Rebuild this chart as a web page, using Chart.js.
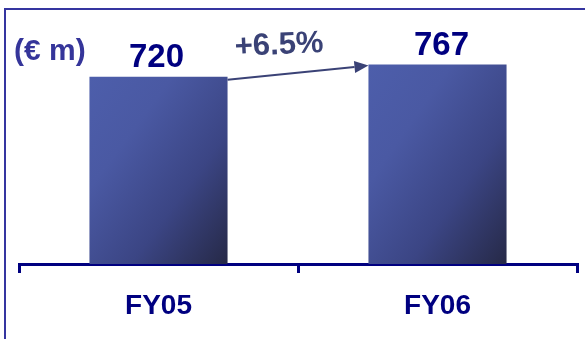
<!DOCTYPE html>
<html>
<head>
<meta charset="utf-8">
<script src="https://cdn.jsdelivr.net/npm/chart.js@4.4.1/dist/chart.umd.min.js"></script>
<style>
html,body{margin:0;padding:0;background:#fff;}
#wrap{width:585px;height:339px;position:relative;}
</style>
</head>
<body>
<div id="wrap"><canvas id="c" width="585" height="339"></canvas></div>
<script>
const categories = ['FY05', 'FY06'];
const revenue = [720, 767];
const unitLabel = '(€ m)';

const FONT = '"Liberation Sans", Arial, sans-serif';
const NAVY = '#000080';

function barGradient(context) {
  const chart = context.chart;
  const xs = chart.scales.x, ys = chart.scales.y;
  const i = context.dataIndex;
  if (!xs || !ys || i === undefined) return '#3f4a8b';
  const cx = xs.getPixelForValue(i);
  const w = (xs.width / categories.length) * 0.495;
  const top = ys.getPixelForValue(revenue[i]);
  const bottom = ys.getPixelForValue(0);
  const h = bottom - top;
  const l = cx - w / 2;
  if (![cx, w, top, bottom].every(Number.isFinite) || w <= 0 || h <= 0) return '#3f4a8b';
  const t = 2 * w * h / (h * h + w * w);
  const g = chart.ctx.createLinearGradient(l, top, l + h * t, top + w * t);
  g.addColorStop(0, '#4d5eab');
  g.addColorStop(0.3, '#4a59a3');
  g.addColorStop(0.65, '#3b4584');
  g.addColorStop(1, '#262947');
  return g;
}

const decorPlugin = {
  id: 'decor',
  beforeDraw(chart) {
    const ctx = chart.ctx;
    ctx.save();
    ctx.strokeStyle = '#3535a0';
    ctx.lineWidth = 2;
    ctx.beginPath();
    ctx.moveTo(5, 339);
    ctx.lineTo(5, 9);
    ctx.lineTo(585, 9);
    ctx.stroke();
    ctx.fillStyle = '#35359a';
    ctx.font = 'bold 30px ' + FONT;
    ctx.textAlign = 'left';
    ctx.textBaseline = 'alphabetic';
    ctx.fillText(unitLabel, 14, 60);
    ctx.restore();
  },
  afterDatasetsDraw(chart) {
    const ctx = chart.ctx;
    const bars = chart.getDatasetMeta(0).data;
    ctx.save();
    ctx.fillStyle = NAVY;
    ctx.font = 'bold 33px ' + FONT;
    ctx.textAlign = 'center';
    ctx.textBaseline = 'alphabetic';
    bars.forEach((el, i) => {
      ctx.fillText(String(revenue[i]), el.x + (i === 0 ? -2 : 4), el.y - 10);
    });
    // growth arrow
    const a = bars[0], b = bars[1];
    const x1 = a.x + a.width / 2, y1 = a.y + 3;
    const x2 = b.x - b.width / 2, y2 = b.y + 1;
    const col = '#3a4276';
    ctx.strokeStyle = col;
    ctx.fillStyle = col;
    ctx.lineWidth = 2;
    const ang = Math.atan2(y2 - y1, x2 - x1);
    const hl = 14, hw = 6;
    const bx = x2 - hl * Math.cos(ang), by = y2 - hl * Math.sin(ang);
    ctx.beginPath();
    ctx.moveTo(x1, y1);
    ctx.lineTo(bx, by);
    ctx.stroke();
    ctx.beginPath();
    ctx.moveTo(x2, y2);
    ctx.lineTo(bx + hw * Math.sin(ang), by - hw * Math.cos(ang));
    ctx.lineTo(bx - hw * Math.sin(ang), by + hw * Math.cos(ang));
    ctx.closePath();
    ctx.fill();
    const pct = (revenue[1] / revenue[0] - 1) * 100;
    const txt = (pct >= 0 ? '+' : '') + pct.toFixed(1) + '%';
    ctx.save();
    ctx.translate(x1 + 52, 54);
    ctx.rotate(-0.05);
    ctx.font = 'bold 31px ' + FONT;
    ctx.fillText(txt, 0, 0);
    ctx.restore();
    ctx.restore();
  }
};

new Chart(document.getElementById('c'), {
  type: 'bar',
  data: {
    labels: categories,
    datasets: [{
      data: revenue,
      backgroundColor: barGradient,
      borderWidth: 0,
      barPercentage: 0.495,
      categoryPercentage: 1
    }]
  },
  options: {
    responsive: false,
    animation: false,
    devicePixelRatio: 1,
    layout: { padding: { top: 4, left: 19, right: 8, bottom: 0 } },
    plugins: { legend: { display: false }, tooltip: { enabled: false } },
    scales: {
      x: {
        afterFit(scale) { scale.height = 75; },
        grid: {
          display: true,
          offset: true,
          drawOnChartArea: false,
          drawTicks: true,
          tickLength: 9,
          color: NAVY,
          lineWidth: 3
        },
        border: { display: true, color: NAVY, width: 3 },
        ticks: {
          color: NAVY,
          padding: 16,
          font: { family: FONT, size: 28, weight: 'bold' }
        }
      },
      y: {
        display: false,
        min: 0,
        max: 1000
      }
    }
  },
  plugins: [decorPlugin]
});
</script>
</body>
</html>
